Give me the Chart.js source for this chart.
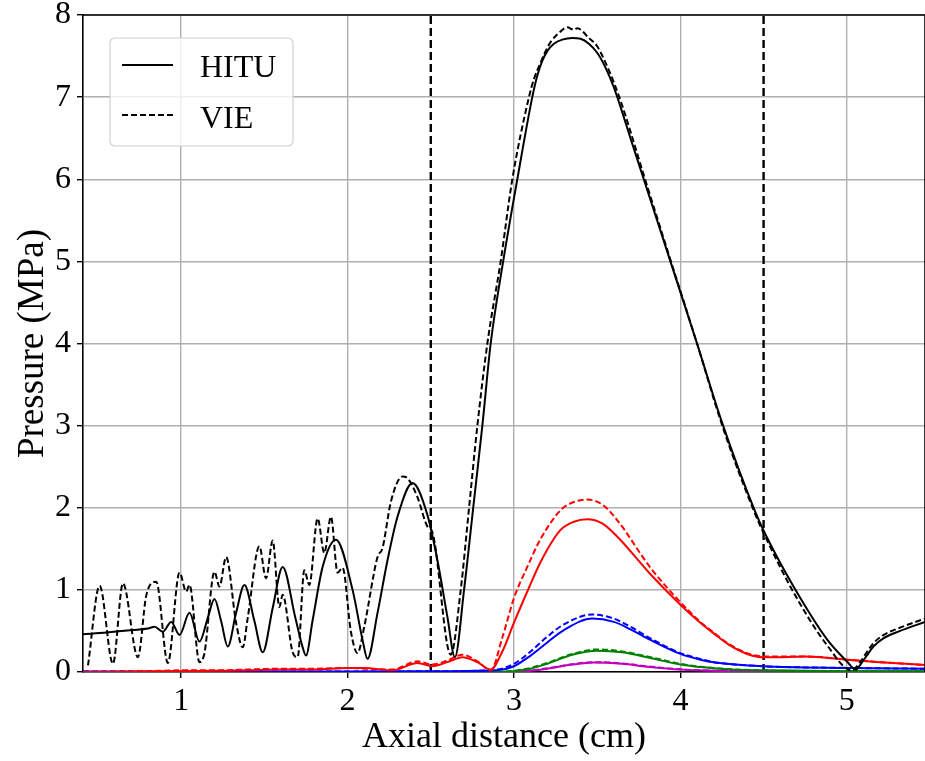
<!DOCTYPE html>
<html>
<head>
<meta charset="utf-8">
<script src="https://cdn.jsdelivr.net/npm/chart.js@4.4.1/dist/chart.umd.min.js"></script>
<style>
  html, body { margin: 0; padding: 0; background: #fff; }
  canvas { display: block; }
</style>
</head>
<body>
<canvas id="c" width="925" height="761"></canvas>
<script>
// axial pressure profiles (x in cm, p in MPa)
const hituX = [0.41, 0.55, 0.71, 0.80, 0.84, 0.89, 0.94, 0.99, 1.05, 1.11, 1.16, 1.20, 1.24, 1.28, 1.33, 1.38, 1.44, 1.49, 1.55, 1.61,
  1.685, 1.73, 1.75, 1.79, 1.85, 1.93, 2.03, 2.09, 2.12, 2.18, 2.24, 2.30, 2.39, 2.48, 2.54, 2.60, 2.645,
  2.70, 2.755, 2.81, 2.86, 2.935, 3.02, 3.11, 3.14, 3.17, 3.20, 3.24, 3.29, 3.35, 3.40, 3.45, 3.50, 3.55, 3.60, 3.65, 3.70, 3.78,
  3.94, 4.10, 4.25, 4.45, 4.51, 4.68, 4.88, 5.00, 5.055, 5.08, 5.12, 5.16, 5.22, 5.32, 5.47];
const hituBlack = [0.46, 0.48, 0.51, 0.53, 0.55, 0.49, 0.61, 0.45, 0.72, 0.37, 0.66, 0.89, 0.62, 0.31, 0.72, 1.06, 0.62, 0.24, 0.78, 1.28,
  0.67, 0.30, 0.20, 0.63, 1.28, 1.61, 1.00, 0.39, 0.16, 0.72, 1.36, 1.89, 2.30, 1.91, 1.36, 0.67, 0.18,
  1.0, 2.0, 3.0, 4.0, 5.0, 6.0, 7.0, 7.26, 7.44, 7.56, 7.65, 7.70, 7.72, 7.71, 7.65, 7.54, 7.36, 7.12, 6.82, 6.50, 6.0,
  5.0, 4.0, 3.04, 1.95, 1.68, 1.04, 0.40, 0.13, 0.03, 0.085, 0.20, 0.31, 0.41, 0.50, 0.61];

const vieX = [0.44, 0.51, 0.59, 0.65, 0.74, 0.79, 0.85, 0.92, 0.99, 1.03, 1.05, 1.11, 1.14, 1.20, 1.23, 1.27, 1.33, 1.37, 1.40, 1.47,
  1.51, 1.55, 1.59, 1.61, 1.67, 1.70, 1.74, 1.77, 1.82, 1.86, 1.90, 1.94, 1.97, 2.02, 2.06, 2.10, 2.18, 2.21, 2.26, 2.33,
  2.36, 2.42, 2.48, 2.51, 2.62, 2.68, 2.73, 2.78, 2.84, 2.92, 2.99, 3.09, 3.12, 3.16, 3.19, 3.22, 3.28, 3.32, 3.36, 3.38, 3.45,
  3.50, 3.55, 3.60, 3.65, 3.70, 3.78, 3.94, 4.10, 4.25, 4.45, 4.51, 4.68, 4.88, 5.03, 5.08, 5.12, 5.16, 5.22, 5.32, 5.47];
const vieBlack = [0.08, 1.05, 0.10, 1.08, 0.18, 0.93, 1.10, 0.11, 1.21, 0.98, 1.06, 0.12, 0.23, 1.22, 1.04, 1.40, 0.60, 0.30, 0.66, 1.53,
  1.14, 1.60, 0.79, 0.94, 0.24, 0.18, 1.24, 1.06, 1.87, 1.45, 1.89, 1.21, 1.27, 0.49, 0.23, 0.55, 1.40, 1.51, 2.07, 2.38,
  2.36, 2.13, 1.77, 1.70, 0.21, 1.0, 2.0, 3.0, 4.0, 5.0, 6.0, 7.0, 7.22, 7.42, 7.56, 7.67, 7.80, 7.85, 7.82, 7.84, 7.72,
  7.62, 7.42, 7.18, 6.90, 6.58, 6.05, 5.02, 4.0, 3.01, 1.92, 1.65, 0.97, 0.33, 0.02, 0.12, 0.24, 0.35, 0.45, 0.54, 0.65];

const redX = [0.41, 0.8, 1.0, 1.2, 1.4, 1.6, 1.8, 2.0, 2.1, 2.27, 2.42, 2.51, 2.6, 2.69, 2.78, 2.86, 2.93, 3.0, 3.08, 3.16,
  3.28, 3.36, 3.44, 3.53, 3.62, 3.82, 4.0, 4.12, 4.2, 4.3, 4.4, 4.5, 4.6, 4.75, 5.0, 5.2, 5.47];
const hituRed = [0.0, 0.005, 0.01, 0.015, 0.02, 0.03, 0.03, 0.05, 0.05, 0.02, 0.11, 0.07, 0.12, 0.18, 0.12, 0.03, 0.25, 0.60, 0.98, 1.34,
  1.73, 1.83, 1.86, 1.81, 1.65, 1.19, 0.82, 0.60, 0.47, 0.32, 0.22, 0.18, 0.18, 0.19, 0.15, 0.12, 0.085];
const vieRed = [0.0, 0.01, 0.02, 0.02, 0.03, 0.04, 0.04, 0.05, 0.04, 0.03, 0.13, 0.09, 0.14, 0.21, 0.13, 0.02, 0.42, 0.90, 1.28, 1.62,
  1.97, 2.07, 2.10, 2.04, 1.85, 1.27, 0.85, 0.61, 0.48, 0.33, 0.23, 0.19, 0.19, 0.19, 0.15, 0.12, 0.085];

const blueX = [0.41, 2.0, 2.6, 2.9, 3.0, 3.1, 3.2, 3.3, 3.47, 3.6, 3.7, 3.82, 4.0, 4.12, 4.2, 4.5, 5.0, 5.47];
const hituBlue = [0.005, 0.005, 0.01, 0.02, 0.07, 0.20, 0.36, 0.51, 0.65, 0.61, 0.52, 0.39, 0.22, 0.15, 0.12, 0.07, 0.05, 0.04];
const vieBlue = [0.005, 0.005, 0.01, 0.03, 0.10, 0.25, 0.43, 0.58, 0.70, 0.65, 0.55, 0.41, 0.23, 0.16, 0.12, 0.07, 0.05, 0.04];

const greenX = [0.41, 2.9, 3.0, 3.1, 3.2, 3.35, 3.5, 3.65, 3.82, 4.0, 4.12, 4.3, 4.5, 5.0, 5.47];
const hituGreen = [0.0, 0.0, 0.01, 0.04, 0.10, 0.21, 0.26, 0.24, 0.17, 0.09, 0.06, 0.03, 0.02, 0.01, 0.01];
const vieGreen = [0.0, 0.0, 0.015, 0.05, 0.11, 0.22, 0.275, 0.25, 0.18, 0.10, 0.065, 0.035, 0.02, 0.01, 0.01];

const magX = [0.41, 3.0, 3.1, 3.2, 3.35, 3.48, 3.65, 3.8, 4.0, 4.3, 4.6, 5.47];
const hituMag = [0.0, 0.0, 0.015, 0.04, 0.09, 0.115, 0.10, 0.065, 0.03, 0.01, 0.005, 0.003];
const vieMag = [0.0, 0.0, 0.018, 0.045, 0.095, 0.12, 0.105, 0.07, 0.032, 0.012, 0.006, 0.003];

const markerX = [2.5, 4.5];
const xTicks = [1, 2, 3, 4, 5];
const yTicks = [0, 1, 2, 3, 4, 5, 6, 7, 8];

const SERIF = '"Liberation Serif", "Times New Roman", serif';
const DASH = [6, 3];

const pts = (xs, ys) => xs.map((x, i) => ({ x, y: ys[i] }));
const line = (xs, ys, color, dashed) => ({
  data: pts(xs, ys),
  borderColor: color,
  borderWidth: 2,
  borderDash: dashed ? DASH : [],
  pointRadius: 0,
  fill: false,
  cubicInterpolationMode: 'monotone'
});

const datasets = [
  line(hituX, hituBlack, '#000000', false),
  line(vieX, vieBlack, '#000000', true),
  line(redX, hituRed, '#ff0000', false),
  line(redX, vieRed, '#ff0000', true),
  line(blueX, hituBlue, '#0000ff', false),
  line(blueX, vieBlue, '#0000ff', true),
  line(greenX, hituGreen, '#008000', false),
  line(greenX, vieGreen, '#008000', true),
  line(magX, hituMag, '#bf00bf', false),
  line(magX, vieMag, '#bf00bf', true)
];
markerX.forEach((x) => {
  datasets.push({
    data: [{ x, y: 0 }, { x, y: 8 }],
    borderColor: '#000000',
    borderWidth: 2.4,
    borderDash: [8, 4],
    pointRadius: 0,
    tension: 0
  });
});

// matplotlib style legend box inside the axes, plus top/right spines
const frame = {
  id: 'frame',
  afterDatasetsDraw(chart) {
    const { ctx, chartArea: a } = chart;
    ctx.save();
    ctx.strokeStyle = '#000';
    ctx.lineWidth = 1.6;
    ctx.beginPath();
    ctx.moveTo(a.left, a.top);
    ctx.lineTo(a.right, a.top);
    ctx.lineTo(a.right, a.bottom);
    ctx.stroke();

    ctx.beginPath();
    ctx.roundRect(110, 38, 183, 108, 5);
    ctx.fillStyle = 'rgba(255,255,255,0.8)';
    ctx.fill();
    ctx.strokeStyle = '#d0d0d0';
    ctx.lineWidth = 1.2;
    ctx.stroke();

    ctx.strokeStyle = '#000';
    ctx.lineWidth = 2;
    ctx.beginPath();
    ctx.moveTo(122, 65); ctx.lineTo(173, 65);
    ctx.stroke();
    ctx.setLineDash(DASH);
    ctx.beginPath();
    ctx.moveTo(122, 115); ctx.lineTo(173, 115);
    ctx.stroke();
    ctx.setLineDash([]);

    ctx.fillStyle = '#000';
    ctx.font = '32px ' + SERIF;
    ctx.textBaseline = 'alphabetic';
    ctx.fillText('HITU', 200, 77);
    ctx.fillText('VIE', 200, 128);
    ctx.restore();
  }
};

new Chart(document.getElementById('c'), {
  type: 'line',
  data: { datasets },
  options: {
    responsive: false,
    devicePixelRatio: 1,
    animation: false,
    layout: { padding: { top: 15, right: 0, left: 0, bottom: 0 } },
    plugins: { legend: { display: false }, tooltip: { enabled: false } },
    scales: {
      x: {
        type: 'linear',
        min: 0.41,
        max: 5.47,
        afterBuildTicks: (s) => { s.ticks = xTicks.map((v) => ({ value: v })); },
        afterFit: (s) => { s.height = 89; s.paddingLeft = 0; s.paddingRight = 0; },
        grid: { color: '#b0b0b0', lineWidth: 1.4, tickLength: 6, tickColor: '#000', tickWidth: 1.4 },
        border: { color: '#000', width: 1.6 },
        ticks: { color: '#000', font: { family: SERIF, size: 32 }, padding: 4, maxRotation: 0 },
        title: { display: true, text: 'Axial distance (cm)', color: '#000', font: { family: SERIF, size: 36 }, padding: { top: 0, bottom: 2 } }
      },
      y: {
        type: 'linear',
        min: 0,
        max: 8,
        afterBuildTicks: (s) => { s.ticks = yTicks.map((v) => ({ value: v })); },
        afterFit: (s) => { s.width = 83; s.paddingTop = 0; s.paddingBottom = 0; },
        grid: { color: '#b0b0b0', lineWidth: 1.4, tickLength: 6, tickColor: '#000', tickWidth: 1.4 },
        border: { color: '#000', width: 1.6 },
        ticks: { color: '#000', font: { family: SERIF, size: 32 }, padding: 6 },
        title: { display: true, text: 'Pressure (MPa)', color: '#000', font: { family: SERIF, size: 37 }, padding: { top: 11, bottom: 0 } }
      }
    }
  },
  plugins: [frame]
});
</script>
</body>
</html>
